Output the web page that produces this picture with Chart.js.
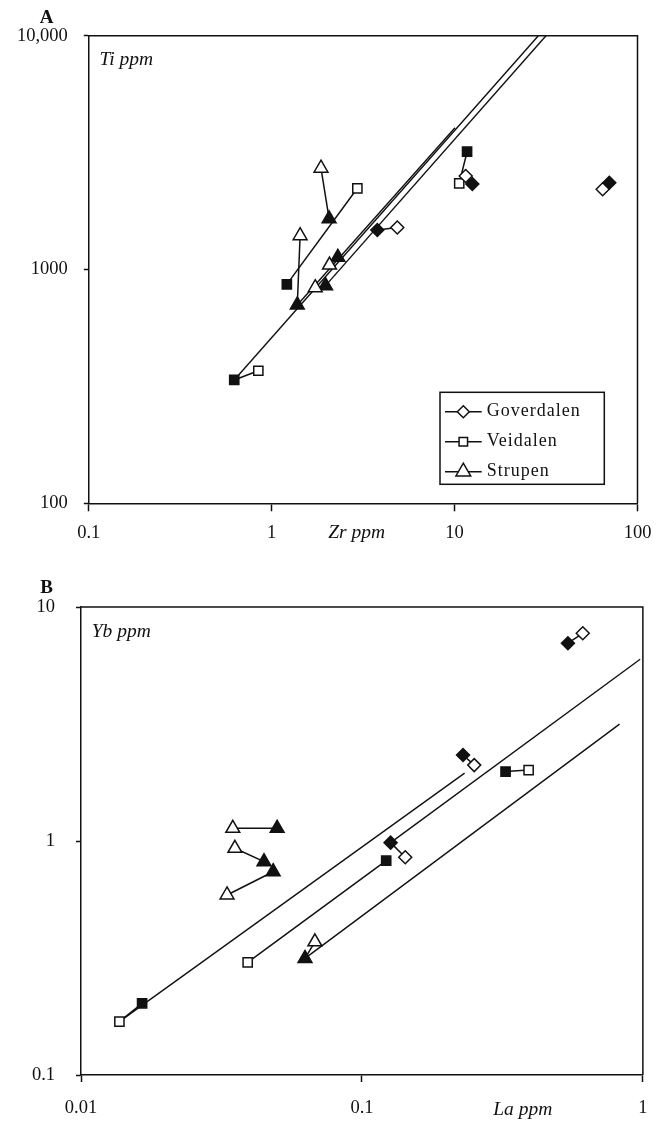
<!DOCTYPE html>
<html><head><meta charset="utf-8">
<script src="https://cdn.jsdelivr.net/npm/chart.js@4.4.1/dist/chart.umd.min.js"></script>
<style>
html,body{margin:0;padding:0;background:#fff;}
body{width:663px;height:1122px;position:relative;overflow:hidden;}
canvas{position:absolute;left:0;}
#cA{top:0;} #cB{top:570px;}
</style></head><body>
<canvas id="cA" width="663" height="570"></canvas>
<canvas id="cB" width="663" height="552"></canvas>
<script>
// ================= DATA =================
const localities = ['Goverdalen', 'Veidalen', 'Strupen'];

// ---- Panel A: Zr ppm (x) vs Ti ppm (y); pair i = filled[i] joined to open[i]
const A_gov_filled_zr = [3.78, 12.5, 70.1];
const A_gov_filled_ti = [1476, 2321, 2351];
const A_gov_open_zr   = [4.86, 11.5, 64.5];
const A_gov_open_ti   = [1512, 2512, 2203];

const A_vei_filled_zr = [0.624, 1.21, 11.7];
const A_vei_filled_ti = [337, 864, 3190];
const A_vei_open_zr   = [0.845, 2.94, 10.6];
const A_vei_open_ti   = [369, 2225, 2337];

const A_str_filled_zr = [2.06, 1.38, 2.30, 1.97];
const A_str_filled_ti = [1648, 705, 1127, 853];
const A_str_open_zr   = [1.86, 1.43, 2.07, 1.73];
const A_str_open_ti   = [2712, 1395, 1045, 836];

const A_trend_zr_start = [0.624, 1.97, 1.38];
const A_trend_ti_start = [337, 853, 705];
const A_trend_zr_end   = [28.7, 31.6, 10.05];
const A_trend_ti_end   = [10000, 10000, 4040];

const A_xTicks = [0.1, 1, 10, 100];
const A_xTickLabels = ['0.1', '1', '10', '100'];
const A_yTicks = [100, 1000, 10000];
const A_yTickLabels = ['100', '1000', '10,000'];

// ---- Panel B: La ppm (x) vs Yb ppm (y)
const B_gov_filled_la = [0.1265, 0.229, 0.541];
const B_gov_filled_yb = [0.984, 2.33, 7.0];
const B_gov_open_la   = [0.1426, 0.251, 0.611];
const B_gov_open_yb   = [0.852, 2.11, 7.72];

const B_vei_filled_la = [0.0165, 0.122, 0.3245];
const B_vei_filled_yb = [0.2025, 0.824, 1.98];
const B_vei_open_la   = [0.0137, 0.0392, 0.392];
const B_vei_open_yb   = [0.169, 0.303, 2.01];

const B_str_filled_la = [0.0499, 0.0448, 0.0483, 0.0627];
const B_str_filled_yb = [1.133, 0.816, 0.739, 0.315];
const B_str_open_la   = [0.0347, 0.0353, 0.0331, 0.068];
const B_str_open_yb   = [1.133, 0.931, 0.588, 0.371];

const B_trend_la_start = [0.0137, 0.1265, 0.0627];
const B_trend_yb_start = [0.169, 0.984, 0.315];
const B_trend_la_end   = [0.232, 0.978, 0.826];
const B_trend_yb_end   = [1.95, 5.98, 3.16];

const B_xTicks = [0.01, 0.1, 1];
const B_xTickLabels = ['0.01', '0.1', '1'];
const B_yTicks = [0.1, 1, 10];
const B_yTickLabels = ['0.1', '1', '10'];

// ================= STYLE / BUILD =================
const INK = '#111';
const SERIF = '"Liberation Serif", "Times New Roman", serif';
const styleOf = {
  Goverdalen: {pointStyle: 'rectRot', radius: 6.5},
  Veidalen:   {pointStyle: 'rect', radius: 6.5},
  Strupen:    {pointStyle: 'triangle', radius: 8}
};

function pairDatasets(name, fx, fy, ox, oy) {
  const st = styleOf[name];
  return fx.map((_, i) => ({
    label: name,
    data: [{x: fx[i], y: fy[i]}, {x: ox[i], y: oy[i]}],
    showLine: true, borderColor: INK, borderWidth: 1.5,
    pointStyle: st.pointStyle, pointRadius: st.radius, pointHoverRadius: st.radius,
    pointBorderWidth: 1.5, pointBorderColor: INK,
    pointBackgroundColor: [INK, '#fff'],
    order: 1
  }));
}
function trendDatasets(xs, ys, xe, ye) {
  return xs.map((_, i) => ({
    label: 'trend',
    data: [{x: xs[i], y: ys[i]}, {x: xe[i], y: ye[i]}],
    showLine: true, borderColor: INK, borderWidth: 1.4,
    pointRadius: 0, pointHoverRadius: 0, order: 2
  }));
}
function closeIdx(arr, v) {
  return arr.findIndex(t => Math.abs(Math.log10(t) - Math.log10(v)) < 1e-6);
}
function scaleCfg(axis, ticksArr, labelsArr, min, max, tickLen, pad, fixed) {
  return {
    type: 'logarithmic', min: min, max: max,
    position: axis === 'x' ? 'bottom' : 'left',
    afterBuildTicks: s => { s.ticks = ticksArr.map(v => ({value: v})); },
    afterFit: s => { if (axis === 'x') s.height = fixed; else s.width = fixed; },
    ticks: {
      autoSkip: false, maxRotation: 0, minRotation: 0, padding: pad, color: INK,
      font: {family: SERIF, size: 18.5},
      callback: v => { const k = closeIdx(ticksArr, v); return k >= 0 ? labelsArr[k] : ''; }
    },
    grid: {display: true, drawOnChartArea: false, drawTicks: true, tickLength: tickLen,
           tickWidth: 1.5, tickColor: INK},
    border: {display: true, color: INK, width: 1.5}
  };
}

function drawMarker(ctx, style, r, x, y) {
  ctx.beginPath();
  if (style === 'rectRot') {
    ctx.moveTo(x - r, y); ctx.lineTo(x, y - r); ctx.lineTo(x + r, y); ctx.lineTo(x, y + r);
  } else if (style === 'rect') {
    const s = r * Math.SQRT1_2;
    ctx.rect(x - s, y - s, 2 * s, 2 * s);
  } else {
    ctx.moveTo(x, y - r); ctx.lineTo(x + 0.866 * r, y + 0.5 * r); ctx.lineTo(x - 0.866 * r, y + 0.5 * r);
  }
  ctx.closePath(); ctx.fill(); ctx.stroke();
}

const decor = {
  id: 'decor',
  afterDatasetsDraw(chart, args, opts) {
    const ctx = chart.ctx, a = chart.chartArea;
    ctx.save();
    ctx.strokeStyle = INK; ctx.lineWidth = 1.5;
    ctx.beginPath();
    ctx.moveTo(a.left, a.top); ctx.lineTo(a.right, a.top); ctx.lineTo(a.right, a.bottom);
    ctx.stroke();
    ctx.fillStyle = INK; ctx.textBaseline = 'middle';
    (opts.texts || []).forEach(t => {
      ctx.font = t.font; ctx.textAlign = t.align; ctx.fillText(t.text, t.x, t.y);
    });
    const lg = opts.legend;
    if (lg) {
      ctx.lineWidth = 1.5; ctx.strokeStyle = INK;
      ctx.strokeRect(lg.box[0], lg.box[1], lg.box[2], lg.box[3]);
      ctx.font = lg.font; ctx.textAlign = 'left';
      try { ctx.letterSpacing = '1px'; } catch (e) {}
      localities.forEach((name, i) => {
        const y = lg.rows[i];
        ctx.beginPath(); ctx.moveTo(lg.lineX[0], y); ctx.lineTo(lg.lineX[1], y); ctx.stroke();
        ctx.fillStyle = '#fff';
        drawMarker(ctx, styleOf[name].pointStyle, lg.radii[i], lg.markX, y);
        ctx.fillStyle = INK;
        ctx.fillText(name, lg.textX, y);
      });
    }
    ctx.restore();
  }
};

function makeChart(id, datasets, xs, ys, layoutPad, texts, legend) {
  return new Chart(document.getElementById(id), {
    type: 'scatter',
    data: {datasets: datasets},
    options: {
      responsive: false, animation: false, devicePixelRatio: 1, events: [],
      layout: {padding: layoutPad},
      scales: {x: xs, y: ys},
      plugins: {legend: {display: false}, tooltip: {enabled: false},
                decor: {texts: texts, legend: legend}}
    },
    plugins: [decor]
  });
}

// ---- Panel A
const dsA = [].concat(
  pairDatasets('Goverdalen', A_gov_filled_zr, A_gov_filled_ti, A_gov_open_zr, A_gov_open_ti),
  pairDatasets('Veidalen', A_vei_filled_zr, A_vei_filled_ti, A_vei_open_zr, A_vei_open_ti),
  pairDatasets('Strupen', A_str_filled_zr, A_str_filled_ti, A_str_open_zr, A_str_open_ti),
  trendDatasets(A_trend_zr_start, A_trend_ti_start, A_trend_zr_end, A_trend_ti_end)
);
makeChart('cA', dsA,
  scaleCfg('x', A_xTicks, A_xTickLabels, 0.1, 100, 8, 11, 66.7),
  scaleCfg('y', A_yTicks, A_yTickLabels, 100, 10000, 5, 16, 88.8),
  {top: 35.7, right: 25.5, left: 0, bottom: 0},
  [
    {text: 'A', x: 46.5, y: 18.3, font: 'bold 19px ' + SERIF, align: 'center'},
    {text: 'Ti ppm', x: 99.4, y: 60, font: 'italic 19.5px ' + SERIF, align: 'left'},
    {text: 'Zr ppm', x: 356.6, y: 533.3, font: 'italic 19.5px ' + SERIF, align: 'center'}
  ],
  {box: [440, 392.3, 164.3, 92], rows: [411.7, 441.7, 471.7], lineX: [445, 481.7],
   markX: 463.3, textX: 486.7, radii: [6, 6, 8.5], font: '18px ' + SERIF}
);

// ---- Panel B
const dsB = [].concat(
  pairDatasets('Goverdalen', B_gov_filled_la, B_gov_filled_yb, B_gov_open_la, B_gov_open_yb),
  pairDatasets('Veidalen', B_vei_filled_la, B_vei_filled_yb, B_vei_open_la, B_vei_open_yb),
  pairDatasets('Strupen', B_str_filled_la, B_str_filled_yb, B_str_open_la, B_str_open_yb),
  trendDatasets(B_trend_la_start, B_trend_yb_start, B_trend_la_end, B_trend_yb_end)
);
makeChart('cB', dsB,
  scaleCfg('x', B_xTicks, B_xTickLabels, 0.01, 1, 7, 15.5, 47),
  scaleCfg('y', B_yTicks, B_yTickLabels, 0.1, 10, 5, 21, 81),
  {top: 37, right: 12, left: 0, bottom: 0},
  [
    {text: 'B', x: 46.5, y: 18.3, font: 'bold 19px ' + SERIF, align: 'center'},
    {text: 'Yb ppm', x: 91.7, y: 61.5, font: 'italic 19.5px ' + SERIF, align: 'left'},
    {text: 'La ppm', x: 522.8, y: 540, font: 'italic 19.5px ' + SERIF, align: 'center'}
  ],
  null
);
</script>
</body></html>
